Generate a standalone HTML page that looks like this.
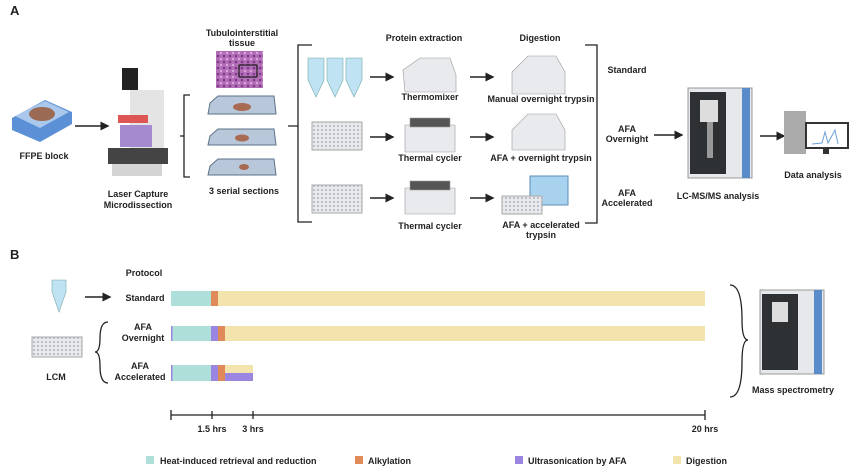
<!DOCTYPE html>
<html><head><meta charset="utf-8"><style>
body{margin:0;background:#fff}
svg{display:block}
text{font-family:"Liberation Sans",sans-serif;font-weight:bold;font-size:9px;fill:#222}
</style></head><body>
<svg width="855" height="475" viewBox="0 0 855 475">
<defs>
<marker id="ah" markerWidth="6" markerHeight="6" refX="5" refY="3" orient="auto"><path d="M0,0L6,3L0,6z" fill="#222"/></marker>
<pattern id="wells" width="4" height="4" patternUnits="userSpaceOnUse"><rect width="4" height="4" fill="#e8eaee"/><circle cx="2" cy="2" r="1.1" fill="#b8bcc4"/></pattern>
<pattern id="tis" width="6" height="6" patternUnits="userSpaceOnUse"><rect width="6" height="6" fill="#b46fb8"/><circle cx="2" cy="2" r="1.3" fill="#7a3a8a"/><circle cx="5" cy="5" r="1" fill="#e0b8e6"/></pattern>
</defs>
<g stroke="#222" stroke-width="1.5" fill="none" marker-end="url(#ah)">
<line x1="75" y1="126" x2="108" y2="126"/>
<line x1="370" y1="77" x2="393" y2="77"/><line x1="370" y1="137" x2="393" y2="137"/><line x1="370" y1="198" x2="393" y2="198"/>
<line x1="470" y1="77" x2="493" y2="77"/><line x1="470" y1="137" x2="493" y2="137"/><line x1="470" y1="198" x2="493" y2="198"/>
<line x1="654" y1="135" x2="682" y2="135"/><line x1="760" y1="136" x2="784" y2="136"/>
<line x1="85" y1="297" x2="110" y2="297"/>
</g>
<g stroke="#222" stroke-width="1.3" fill="none">
<path d="M190,95H184V177H190M180,136H184"/>
<path d="M312,45H298V222H312M288,126H298"/>
<path d="M585,45H597V223H585"/>
<path d="M108,322Q100,322 100,338Q100,352 95,352Q100,352 100,366Q100,383 108,383"/>
<path d="M730,285Q742,285 742,320Q742,340 748,340Q742,340 742,362Q742,397 730,397"/>
</g>
<text x="10" y="15" style="font-size:13px">A</text>
<text x="10" y="259" style="font-size:13px">B</text>
<path d="M12,118L45,100L72,112L72,124L40,142L12,130z" fill="#5b8fd6"/>
<path d="M15,116L45,101L69,112L40,128z" fill="#a9c8ec"/>
<ellipse cx="42" cy="114" rx="13" ry="7" fill="#9a6a55"/>
<text x="44" y="159" text-anchor="middle">FFPE block</text>
<rect x="122" y="68" width="16" height="22" fill="#222"/>
<rect x="130" y="90" width="34" height="60" fill="#e4e4e4"/>
<rect x="120" y="125" width="32" height="22" fill="#a58ad0"/>
<rect x="118" y="115" width="30" height="8" fill="#d55"/>
<rect x="108" y="148" width="60" height="16" fill="#444"/>
<rect x="112" y="164" width="50" height="12" fill="#d4d4d4"/>
<text x="138" y="197" text-anchor="middle">Laser Capture</text>
<text x="138" y="208" text-anchor="middle">Microdissection</text>
<rect x="216" y="51" width="47" height="37" fill="url(#tis)"/>
<rect x="239" y="65" width="18" height="12" fill="none" stroke="#111" stroke-width="1.2"/>
<text x="242" y="36" text-anchor="middle">Tubulointerstitial</text>
<text x="242" y="46" text-anchor="middle">tissue</text>
<g fill="#b8c7d9" stroke="#5e7188" stroke-width="1">
<path d="M210,103L218,96H274L276,114H208z"/><path d="M210,136L218,129H274L276,145H208z"/><path d="M210,166L218,159H274L276,175H208z"/>
</g>
<ellipse cx="242" cy="107" rx="9" ry="4" fill="#a86a50"/><ellipse cx="242" cy="138" rx="7" ry="3.5" fill="#a86a50"/><ellipse cx="244" cy="167" rx="5" ry="3" fill="#a86a50"/>
<text x="244" y="194" text-anchor="middle">3 serial sections</text>
<g fill="#bfe3f3" stroke="#7aa" stroke-width=".6">
<path d="M308,58H324V80L316,97L308,80z"/><path d="M327,58H343V80L335,97L327,80z"/><path d="M346,58H362V80L354,97L346,80z"/>
</g>
<rect x="312" y="122" width="50" height="28" fill="url(#wells)" stroke="#aaa"/>
<rect x="312" y="185" width="50" height="28" fill="url(#wells)" stroke="#aaa"/>
<g fill="#e8eaee" stroke="#999" stroke-width=".6">
<path d="M403,70L420,58H450L456,75V92H405z"/>
<path d="M405,125H455V152H405z"/><rect x="410" y="118" width="40" height="9" fill="#555"/>
<path d="M405,188H455V214H405z"/><rect x="410" y="181" width="40" height="9" fill="#555"/>
<path d="M512,72L528,56H556L565,72V94H512z"/>
<path d="M512,130L528,114H556L565,130V150H512z"/>
</g>
<path d="M530,176H568V205H530z" fill="#a9d2ee" stroke="#5a8fb8"/>
<rect x="502" y="196" width="40" height="18" fill="url(#wells)" stroke="#aaa"/>
<text x="424" y="41" text-anchor="middle">Protein extraction</text>
<text x="540" y="41" text-anchor="middle">Digestion</text>
<text x="430" y="100" text-anchor="middle">Thermomixer</text>
<text x="430" y="161" text-anchor="middle">Thermal cycler</text>
<text x="430" y="229" text-anchor="middle">Thermal cycler</text>
<text x="541" y="102" text-anchor="middle">Manual overnight trypsin</text>
<text x="541" y="161" text-anchor="middle">AFA + overnight trypsin</text>
<text x="541" y="228" text-anchor="middle">AFA + accelerated</text>
<text x="541" y="238" text-anchor="middle">trypsin</text>
<text x="627" y="73" text-anchor="middle">Standard</text>
<text x="627" y="132" text-anchor="middle">AFA</text><text x="627" y="142" text-anchor="middle">Overnight</text>
<text x="627" y="196" text-anchor="middle">AFA</text><text x="627" y="206" text-anchor="middle">Accelerated</text>
<rect x="688" y="88" width="64" height="90" fill="#e6e8ec" stroke="#999"/>
<rect x="690" y="92" width="36" height="82" fill="#2e3134"/>
<rect x="742" y="88" width="8" height="90" fill="#5a8ccc"/>
<rect x="700" y="100" width="18" height="22" fill="#ddd"/><rect x="707" y="122" width="6" height="36" fill="#999"/>
<text x="718" y="199" text-anchor="middle">LC-MS/MS analysis</text>
<rect x="784" y="111" width="22" height="43" fill="#aaa"/>
<rect x="806" y="123" width="42" height="25" fill="#fff" stroke="#333" stroke-width="2"/>
<path d="M812,144L822,143L825,132L828,143L835,130L838,144" stroke="#6aa0d8" fill="none"/>
<rect x="823" y="148" width="6" height="6" fill="#333"/>
<text x="813" y="178" text-anchor="middle">Data analysis</text>
<path d="M52,280H66V292L59,312L52,292z" fill="#bfe3f3" stroke="#7aa" stroke-width=".6"/>
<rect x="32" y="337" width="50" height="20" fill="url(#wells)" stroke="#aaa"/>
<text x="56" y="380" text-anchor="middle">LCM</text>
<text x="144" y="276" text-anchor="middle">Protocol</text>
<text x="145" y="301" text-anchor="middle">Standard</text>
<text x="143" y="330" text-anchor="middle">AFA</text><text x="143" y="341" text-anchor="middle">Overnight</text>
<text x="140" y="369" text-anchor="middle">AFA</text><text x="140" y="380" text-anchor="middle">Accelerated</text>
<rect x="171" y="291" width="40" height="15" fill="#aee0d9"/><rect x="211" y="291" width="7" height="15" fill="#e08a5a"/><rect x="218" y="291" width="487" height="15" fill="#f3e4ad"/>
<rect x="171" y="326" width="1.5" height="15" fill="#9a86e0"/><rect x="172.5" y="326" width="38.5" height="15" fill="#aee0d9"/><rect x="211" y="326" width="7" height="15" fill="#9a86e0"/><rect x="218" y="326" width="7" height="15" fill="#e08a5a"/><rect x="225" y="326" width="480" height="15" fill="#f3e4ad"/>
<rect x="171" y="365" width="1.5" height="16" fill="#9a86e0"/><rect x="172.5" y="365" width="38.5" height="16" fill="#aee0d9"/><rect x="211" y="365" width="7" height="16" fill="#9a86e0"/><rect x="218" y="365" width="7" height="16" fill="#e08a5a"/><rect x="225" y="365" width="28" height="8" fill="#f3e4ad"/><rect x="225" y="373" width="28" height="8" fill="#9a86e0"/>
<rect x="760" y="290" width="64" height="84" fill="#e6e8ec" stroke="#999"/>
<rect x="762" y="294" width="36" height="76" fill="#2e3134"/><rect x="814" y="290" width="8" height="84" fill="#5a8ccc"/>
<rect x="772" y="302" width="16" height="20" fill="#ddd"/>
<text x="793" y="393" text-anchor="middle">Mass spectrometry</text>
<g stroke="#222" stroke-width="1.3"><line x1="171" y1="415" x2="705" y2="415"/><line x1="171" y1="410" x2="171" y2="420"/><line x1="212" y1="411" x2="212" y2="419"/><line x1="253" y1="411" x2="253" y2="419"/><line x1="705" y1="410" x2="705" y2="420"/></g>
<text x="212" y="432" text-anchor="middle">1.5 hrs</text><text x="253" y="432" text-anchor="middle">3 hrs</text><text x="705" y="432" text-anchor="middle">20 hrs</text>
<rect x="146" y="456" width="8" height="8" fill="#aee0d9"/><text x="160" y="464">Heat-induced retrieval and reduction</text>
<rect x="355" y="456" width="8" height="8" fill="#e08a5a"/><text x="368" y="464">Alkylation</text>
<rect x="515" y="456" width="8" height="8" fill="#9a86e0"/><text x="528" y="464">Ultrasonication by AFA</text>
<rect x="673" y="456" width="8" height="8" fill="#f3e4ad"/><text x="686" y="464">Digestion</text>
</svg>
</body></html>
